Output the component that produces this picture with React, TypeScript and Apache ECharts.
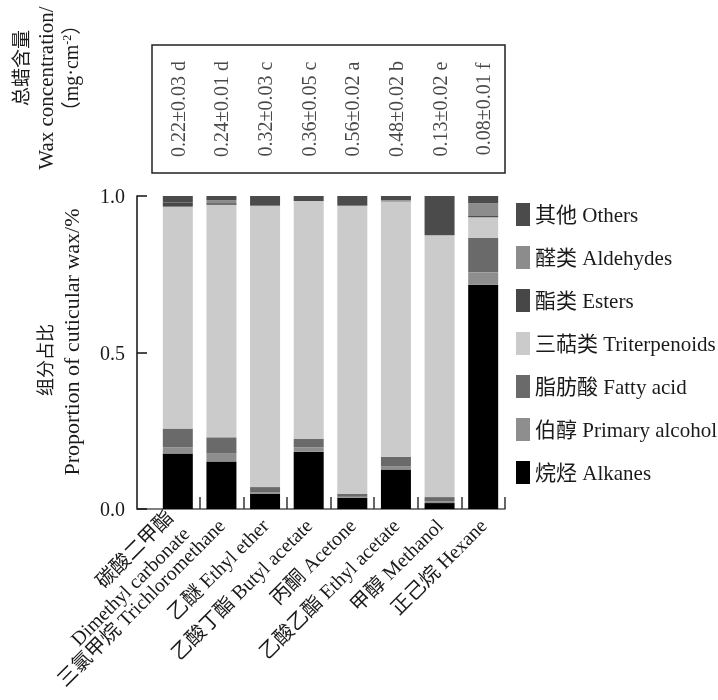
import React, { useEffect, useRef } from 'react';
import * as echarts from 'echarts';

const categories = [
  '碳酸二甲酯\nDimethyl carbonate',
  '三氯甲烷 Trichloromethane',
  '乙醚 Ethyl ether',
  '乙酸丁酯 Butyl acetate',
  '丙酮 Acetone',
  '乙酸乙酯 Ethyl acetate',
  '甲醇 Methanol',
  '正己烷 Hexane',
];

const waxLabels = [
  '0.22±0.03 d',
  '0.24±0.01 d',
  '0.32±0.03 c',
  '0.36±0.05 c',
  '0.56±0.02 a',
  '0.48±0.02 b',
  '0.13±0.02 e',
  '0.08±0.01 f',
];

const alkanes = [0.177, 0.152, 0.049, 0.183, 0.036, 0.126, 0.019, 0.716];
const primaryAlcohol = [0.020, 0.025, 0.005, 0.014, 0.003, 0.011, 0.006, 0.040];
const fattyAcid = [0.060, 0.052, 0.016, 0.027, 0.010, 0.030, 0.013, 0.110];
const triterpenoids = [0.709, 0.743, 0.899, 0.760, 0.920, 0.816, 0.837, 0.066];
const esters = [0.013, 0.005, 0, 0, 0, 0.002, 0, 0.004];
const aldehydes = [0, 0.010, 0, 0, 0, 0.002, 0, 0.041];
const others = [0.021, 0.013, 0.031, 0.016, 0.031, 0.013, 0.125, 0.023];

const seriesNames = [
  '烷烃 Alkanes',
  '伯醇 Primary alcohol',
  '脂肪酸 Fatty acid',
  '三萜类 Triterpenoids',
  '酯类 Esters',
  '醛类 Aldehydes',
  '其他 Others',
];
const seriesValues = [alkanes, primaryAlcohol, fattyAcid, triterpenoids, esters, aldehydes, others];
const seriesColors = ['#000000', '#8e8e8e', '#6a6a6a', '#cbcbcb', '#474747', '#8c8c8c', '#4b4b4b'];

const yMin = 0;
const yMax = 1;
const yInterval = 0.5;

export default function App() {
  const ref = useRef<HTMLDivElement>(null);
  useEffect(() => {
    const chart = echarts.init(ref.current!, null, { renderer: 'svg' });
    const font = "'Liberation Serif', 'Times New Roman', 'Noto Sans CJK SC', serif";
    const textColor = '#1a1a1a';

    const bars = seriesNames.map((name, i) => ({
      name,
      type: 'bar',
      stack: 'total',
      xAxisIndex: 1,
      yAxisIndex: 1,
      barWidth: 30,
      data: seriesValues[i],
      itemStyle: { color: seriesColors[i] },
    }));

    const vText = (text: string, x: number, y: number, size: number, extra: any = {}) => ({
      type: 'text', x, y, rotation: Math.PI / 2, silent: true,
      style: {
        text, fontSize: size, fontFamily: font, fill: textColor,
        align: 'center', verticalAlign: 'middle', ...extra,
      },
    });

    chart.setOption({
      animation: false,
      textStyle: { fontFamily: font },
      grid: [
        { left: 137, right: 213, top: 196, bottom: 191, outerBoundsMode: 'none', containLabel: false },
        { left: 156, right: 213, top: 196, bottom: 191, outerBoundsMode: 'none', containLabel: false },
        { left: 156, right: 213, top: 45, height: 128, outerBoundsMode: 'none', containLabel: false },
      ],
      xAxis: [
        {
          type: 'value', gridIndex: 0, min: 0, max: 1,
          axisLine: { show: true, onZero: false, lineStyle: { color: '#555', width: 1.5 } },
          axisTick: { show: false }, axisLabel: { show: false }, splitLine: { show: false },
        },
        {
          type: 'category', gridIndex: 1, data: categories,
          axisLine: { show: false },
          axisTick: {
            show: true, inside: true, length: 12,
            interval: (i: number) => i > 0,
            lineStyle: { color: '#333', width: 1.5 },
          },
          axisLabel: {
            interval: 0, rotate: 45, fontSize: 20, color: textColor, margin: 13,
            lineHeight: 23, fontFamily: font,
          },
        },
        { type: 'category', gridIndex: 2, data: categories, show: false },
      ],
      yAxis: [
        {
          type: 'value', gridIndex: 0, min: yMin, max: yMax, interval: yInterval,
          axisLine: { show: true, lineStyle: { color: '#111', width: 1.5 } },
          axisTick: { show: true, inside: true, length: 10, lineStyle: { color: '#111', width: 1.5 } },
          axisLabel: { fontSize: 20, color: textColor, margin: 12, fontFamily: font, formatter: (v: number) => v.toFixed(1) },
          splitLine: { show: false },
        },
        { type: 'value', gridIndex: 1, min: yMin, max: yMax, show: false },
        { type: 'value', gridIndex: 2, min: 0, max: 1, show: false },
      ],
      legend: {
        orient: 'vertical',
        left: 511,
        top: 198,
        itemWidth: 14,
        itemHeight: 23,
        itemGap: 20,
        icon: 'rect',
        data: seriesNames.slice().reverse(),
        textStyle: { fontSize: 21, color: textColor, fontFamily: font },
      },
      series: [
        ...bars,
        {
          type: 'scatter',
          xAxisIndex: 2,
          yAxisIndex: 2,
          symbolSize: 1,
          itemStyle: { color: 'rgba(0,0,0,0)' },
          data: waxLabels.map((_, i) => [i, 0.5]),
          label: {
            show: true,
            position: 'inside',
            rotate: 90,
            fontSize: 20,
            color: textColor,
            fontFamily: font,
            formatter: (p: any) => waxLabels[p.dataIndex],
          },
          silent: true,
        },
      ],
      graphic: [
        {
          type: 'rect',
          shape: { x: 152, y: 45, width: 353, height: 128 },
          style: { fill: 'none', stroke: '#222', lineWidth: 1.5 },
          silent: true,
        },
        vText('总蜡含量', 21, 68, 19),
        vText('Wax concentration/', 46, 88, 21),
        vText('（mg·cm{sup|-2}）', 71, 68, 20, {
          rich: { sup: { fontSize: 12, fontFamily: font, fill: textColor, verticalAlign: 'top', padding: [0, 0, 8, 0] } },
        }),
        vText('组分占比', 46, 360, 18),
        vText('Proportion of cuticular wax/%', 71, 342, 22),
      ],
    });
    return () => chart.dispose();
  }, []);
  return <div ref={ref} style={{ position: 'fixed', left: 0, top: 0, width: 718, height: 700 }} />;
}
